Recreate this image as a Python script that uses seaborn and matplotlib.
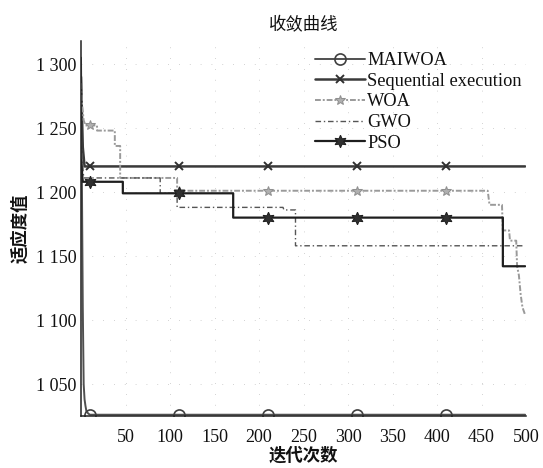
import matplotlib
matplotlib.use("Agg")
import matplotlib.pyplot as plt
import numpy as np
import pandas as pd
import seaborn as sns

# iterações marcadas com símbolos em todas as curvas
iter_marcas = [10, 110, 210, 310, 410]

maiwoa_iter = [0, 1, 2, 3, 4, 5, 6, 8, 10, 110, 210, 310, 410, 499]
maiwoa_val = [1305, 1210, 1110, 1050, 1038, 1033, 1029, 1027, 1026, 1026, 1026, 1026, 1026, 1026]

seq_iter = [0, 2, 4, 10, 110, 210, 310, 410, 499]
seq_val = [1290, 1235, 1220, 1220, 1220, 1220, 1220, 1220, 1220]

woa_iter = [0, 1, 3, 5, 10, 18, 18, 38, 38, 44, 44, 108, 108, 110, 210, 310, 410,
            457, 459, 473, 474, 481, 482, 489, 490, 492, 494, 496, 499]
woa_val = [1285, 1270, 1256, 1252, 1252, 1252, 1248, 1248, 1236, 1236, 1211, 1211, 1201, 1201,
           1201, 1201, 1201, 1201, 1190, 1190, 1170, 1170, 1162, 1162, 1142, 1135, 1120, 1110, 1104]

gwo_iter = [0, 3, 89, 89, 108, 108, 227, 228, 241, 241, 499]
gwo_val = [1240, 1211, 1211, 1199, 1199, 1188, 1188, 1186, 1186, 1158, 1158]

pso_iter = [0, 2, 10, 47, 47, 110, 171, 171, 210, 310, 410, 474, 474, 499]
pso_val = [1225, 1208, 1208, 1208, 1199, 1199, 1199, 1180, 1180, 1180, 1180, 1180, 1142, 1142]

x_ticks = [50, 100, 150, 200, 250, 300, 350, 400, 450, 500]
y_ticks = [1050, 1100, 1150, 1200, 1250, 1300]
y_tick_labels = ["1 050", "1 100", "1 150", "1 200", "1 250", "1 300"]

sns.set_theme(style="white")
plt.rcParams['font.family'] = ['Liberation Serif', 'Noto Sans CJK SC', 'DejaVu Sans']

fig = plt.figure(figsize=(5.43, 4.68), dpi=100)
ax = fig.add_axes([81 / 543, 1 - 416 / 468, 445 / 543, 375 / 468])

curvas = [
    ("MAIWOA", maiwoa_iter, maiwoa_val,
     dict(color='#505050', linestyle='-', linewidth=1.4, marker='o', markersize=8,
          markerfacecolor='none', markeredgecolor='#404040', markeredgewidth=1.2)),
    ("Sequential execution", seq_iter, seq_val,
     dict(color='#3a3a3a', linestyle='-', linewidth=1.8, marker='x', markersize=6,
          markeredgecolor='#303030', markeredgewidth=1.4)),
    ("WOA", woa_iter, woa_val,
     dict(color='#9a9a9a', linestyle=(0, (3, 1, 1, 1)), linewidth=1.4, marker='*', markersize=7,
          markerfacecolor='#b0b0b0', markeredgecolor='#909090')),
    ("GWO", gwo_iter, gwo_val,
     dict(color='#555555', linestyle=(0, (4, 2, 1, 2)), linewidth=1.0)),
    ("PSO", pso_iter, pso_val,
     dict(color='#1e1e1e', linestyle='-', linewidth=1.6, marker=(6, 1, 0), markersize=9,
          markerfacecolor='#303030', markeredgecolor='#202020')),
]

for nome, it, val, estilo in curvas:
    df = pd.DataFrame({'iter': it, 'valor': val})
    if 'marker' in estilo:
        # uma marca por iteração marcada (a primeira ocorrência)
        vistos = set()
        marcas = []
        for i, x in enumerate(it):
            if x in iter_marcas and x not in vistos:
                vistos.add(x)
                marcas.append(i)
        estilo = dict(estilo, markevery=marcas)
    sns.lineplot(data=df, x='iter', y='valor', estimator=None, sort=False,
                 ax=ax, label=nome, **estilo)

ax.set_xlim(0, 500)
ax.set_ylim(1025, 1318)
ax.set_xticks(x_ticks)
ax.set_xticklabels([str(t) for t in x_ticks])
ax.set_yticks(y_ticks)
ax.set_yticklabels(y_tick_labels)
ax.set_yticks([1318], minor=True)

ax.grid(True, linestyle=(0, (1, 12)), color='#c4c4c4', linewidth=0.6)
for lado in ['top', 'right']:
    ax.spines[lado].set_visible(False)
for lado in ['left', 'bottom']:
    ax.spines[lado].set_color('#222222')
    ax.spines[lado].set_linewidth(1.1)

ax.tick_params(axis='both', which='both', direction='in', length=4, width=1,
               color='#222222', labelsize=13, labelcolor='#111111')
ax.tick_params(axis='x', pad=9)
ax.tick_params(axis='y', pad=3)

ax.set_title("收敛曲线", fontsize=12.5, family=['Noto Sans CJK SC'], fontweight='medium',
             pad=8, color='#111111')
ax.set_xlabel("迭代次数", fontsize=12.5, family=['Noto Sans CJK SC'], fontweight='bold',
              labelpad=1, color='#111111')
ax.set_ylabel("适应度值", fontsize=12.5, family=['Noto Sans CJK SC'], fontweight='bold',
              labelpad=5, color='#111111')

leg = ax.legend(loc='upper left', bbox_to_anchor=(315 / 543, 1 - 52 / 468),
                bbox_transform=fig.transFigure, frameon=False, fontsize=13.2,
                handlelength=2.7, handletextpad=0.15, labelspacing=0.2, borderpad=0,
                borderaxespad=0)
for t in leg.get_texts():
    t.set_color('#111111')

fig.savefig("out.png", dpi=100)
